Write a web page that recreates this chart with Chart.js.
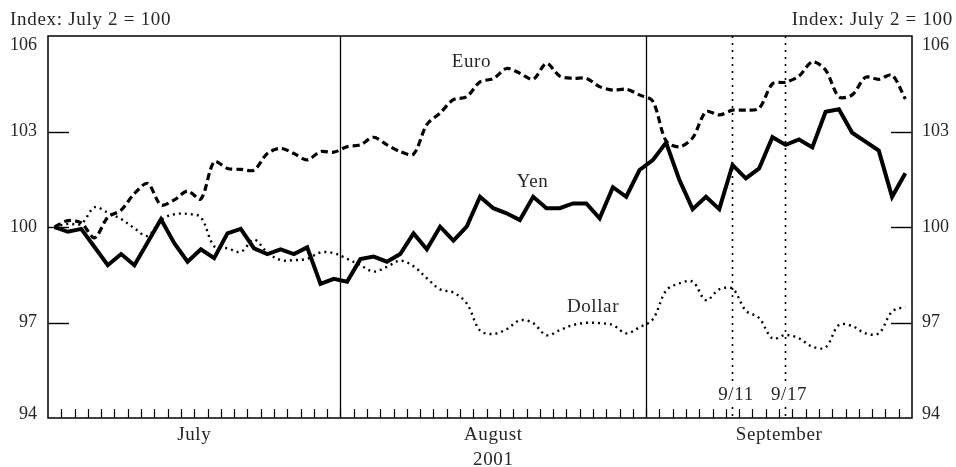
<!DOCTYPE html>
<html><head><meta charset="utf-8">
<script src="https://cdn.jsdelivr.net/npm/chart.js@4/dist/chart.umd.min.js"></script>
<style>html,body{margin:0;padding:0;background:#fff;}#wrap{width:956px;height:467px;}</style>
</head><body><div id="wrap"><canvas id="c" width="956" height="467"></canvas></div>
<script>
// Business days, July 2 – September 28, 2001
const days = [
 '7/2','7/3','7/4','7/5','7/6','7/9','7/10','7/11','7/12','7/13','7/16','7/17','7/18','7/19','7/20','7/23','7/24','7/25','7/26','7/27','7/30','7/31',
 '8/1','8/2','8/3','8/6','8/7','8/8','8/9','8/10','8/13','8/14','8/15','8/16','8/17','8/20','8/21','8/22','8/23','8/24','8/27','8/28','8/29','8/30','8/31',
 '9/3','9/4','9/5','9/6','9/7','9/10','9/11','9/12','9/13','9/14','9/17','9/18','9/19','9/20','9/21','9/24','9/25','9/26','9/27','9/28'
];
const yen = [
 100.0, 99.85, 99.94, 99.37, 98.8, 99.15, 98.8, 99.52, 100.24, 99.49, 98.91, 99.3, 99.02, 99.8, 99.94, 99.33, 99.15, 99.3, 99.15, 99.36, 98.21, 98.37,
 98.28, 98.99, 99.07, 98.91, 99.15, 99.8, 99.3, 100.01, 99.57, 100.01, 100.95, 100.59, 100.43, 100.22, 100.95, 100.59, 100.59, 100.74, 100.74, 100.27, 101.25, 100.95, 101.79,
 102.1, 102.65, 101.48, 100.56, 100.95, 100.56, 101.95, 101.53, 101.84, 102.82, 102.58, 102.75, 102.5, 103.62, 103.7, 102.96, 102.68, 102.4, 100.95, 101.69
];
const euro = [
 100.0, 100.2, 100.13, 99.66, 100.31, 100.53, 101.05, 101.37, 100.69, 100.85, 101.13, 100.88, 102.05, 101.84, 101.81, 101.79, 102.31, 102.47, 102.31, 102.11, 102.37, 102.35,
 102.52, 102.58, 102.82, 102.58, 102.37, 102.29, 103.22, 103.58, 104.0, 104.09, 104.56, 104.66, 104.98, 104.83, 104.64, 105.14, 104.74, 104.67, 104.67, 104.41, 104.3, 104.33, 104.15,
 103.95, 102.7, 102.52, 102.8, 103.62, 103.52, 103.67, 103.67, 103.73, 104.5, 104.55, 104.74, 105.19, 104.93, 104.09, 104.15, 104.7, 104.64, 104.77, 104.02
];
const dollar = [
 100.0, 100.1, 100.1, 100.62, 100.45, 100.25, 99.96, 99.72, 100.22, 100.4, 100.41, 100.3, 99.4, 99.33, 99.22, 99.6, 99.2, 98.96, 98.96, 99.0, 99.2, 99.18,
 99.0, 98.8, 98.6, 98.75, 98.94, 98.77, 98.39, 98.04, 97.94, 97.6, 96.75, 96.64, 96.79, 97.07, 96.98, 96.6, 96.76, 96.92, 96.99, 96.98, 96.92, 96.66, 96.85,
 97.1, 98.0, 98.23, 98.28, 97.7, 98.04, 98.06, 97.37, 97.14, 96.5, 96.61, 96.5, 96.24, 96.22, 96.92, 96.89, 96.66, 96.66, 97.34, 97.5
];
const yTicks = [94, 97, 100, 103, 106];
const monthNames = ['July', 'August', 'September'];
const monthKeys = ['7', '8', '9'];
const yearLabel = '2001';
const axisTitle = 'Index: July 2 = 100';
const events = ['9/11', '9/17'];
// series name annotations: [text, category position, value at text baseline]
const seriesNotes = [['Euro', 31.35, 105.04], ['Yen', 35.95, 101.27], ['Dollar', 40.5, 97.34]];

const FONT = '"Liberation Serif", "DejaVu Serif", serif';
const TXT = '#262626';

const deco = {
  id: 'deco',
  beforeDatasetsDraw(chart) {
    const {ctx, chartArea: a, scales: {x, y}} = chart;
    const step = x.getPixelForValue(1) - x.getPixelForValue(0);
    ctx.save();
    ctx.strokeStyle = '#000';
    // month separators
    ctx.lineWidth = 1.3;
    for (let i = 1; i < days.length; i++) {
      if (days[i].split('/')[0] !== days[i - 1].split('/')[0]) {
        const px = Math.round(x.getPixelForValue(i) - step / 2) + 0.5;
        ctx.beginPath(); ctx.moveTo(px, a.top); ctx.lineTo(px, a.bottom); ctx.stroke();
      }
    }
    // event lines (dotted)
    ctx.lineWidth = 1.6;
    ctx.setLineDash([2, 5]);
    events.forEach(ev => {
      const px = Math.round(x.getPixelForValue(days.indexOf(ev))) - 0.5;
      ctx.beginPath(); ctx.moveTo(px, a.top); ctx.lineTo(px, a.bottom); ctx.stroke();
    });
    ctx.setLineDash([]);
    // x day ticks (inward from bottom)
    ctx.lineWidth = 1.2;
    for (let i = 1; i < days.length; i++) {
      const px = Math.round(x.getPixelForValue(i) - step / 2) + 0.5;
      ctx.beginPath(); ctx.moveTo(px, a.bottom); ctx.lineTo(px, a.bottom - 9); ctx.stroke();
    }
    // y ticks both sides
    ctx.lineWidth = 1.4;
    yTicks.forEach(v => {
      if (v === y.min || v === y.max) return;
      const py = Math.round(y.getPixelForValue(v)) + 0.5;
      ctx.beginPath(); ctx.moveTo(a.left, py); ctx.lineTo(a.left + 21, py); ctx.stroke();
      ctx.beginPath(); ctx.moveTo(a.right, py); ctx.lineTo(a.right - 21, py); ctx.stroke();
    });
    // frame
    ctx.lineWidth = 1.5;
    ctx.strokeRect(a.left, a.top, a.right - a.left, a.bottom - a.top);
    ctx.restore();
  },
  afterDraw(chart) {
    const {ctx, chartArea: a, scales: {x, y}} = chart;
    ctx.save();
    ctx.fillStyle = TXT;
    ctx.font = '18px ' + FONT;
    // y labels
    ctx.textBaseline = 'middle';
    yTicks.forEach(v => {
      let py = y.getPixelForValue(v);
      if (v === y.max) py += 9;
      if (v === y.min) py -= 4;
      ctx.textAlign = 'right'; ctx.fillText(String(v), a.left - 11, py);
      ctx.textAlign = 'left'; ctx.fillText(String(v), a.right + 10, py);
    });
    // titles
    ctx.textBaseline = 'alphabetic';
    ctx.font = '19px ' + FONT;
    if ('letterSpacing' in ctx) ctx.letterSpacing = '0.7px';
    ctx.textAlign = 'left'; ctx.fillText(axisTitle, 10, 25);
    ctx.textAlign = 'right'; ctx.fillText(axisTitle, 953, 25);
    if ('letterSpacing' in ctx) ctx.letterSpacing = '0.6px';
    // month labels
    ctx.textAlign = 'center';
    monthKeys.forEach((k, m) => {
      const idx = days.map((d, i) => d.split('/')[0] === k ? i : -1).filter(i => i >= 0);
      const cx = (x.getPixelForValue(idx[0]) + x.getPixelForValue(idx[idx.length - 1])) / 2;
      ctx.fillText(monthNames[m], cx, 440);
      if (m === 1) ctx.fillText(yearLabel, cx, 465);
    });
    // series names
    seriesNotes.forEach(([t, pos, v]) => {
      const px = x.getPixelForValue(Math.floor(pos)) + (pos - Math.floor(pos)) * (x.getPixelForValue(1) - x.getPixelForValue(0));
      ctx.fillText(t, px, y.getPixelForValue(v));
    });
    // event labels
    events.forEach(ev => {
      const px = Math.round(x.getPixelForValue(days.indexOf(ev))) + 3;
      const py = y.getPixelForValue(94.56);
      const w = ctx.measureText(ev).width;
      ctx.fillStyle = '#fff';
      ctx.fillRect(px - w / 2 - 1, py - 15, w + 2, 19);
      ctx.fillStyle = TXT;
      ctx.fillText(ev, px, py);
    });
    ctx.restore();
  }
};

new Chart(document.getElementById('c'), {
  type: 'line',
  data: {
    labels: days,
    datasets: [
      {label: 'Yen', data: yen, borderColor: '#000', borderWidth: 4, pointRadius: 0, tension: 0, borderJoinStyle: 'miter', fill: false},
      {label: 'Euro', data: euro, borderColor: '#000', borderWidth: 3.2, borderDash: [7, 4], pointRadius: 0, tension: 0.3, fill: false},
      {label: 'Dollar', data: dollar, borderColor: '#000', borderWidth: 2.4, borderDash: [2, 4], pointRadius: 0, tension: 0.35, fill: false}
    ]
  },
  options: {
    responsive: false,
    devicePixelRatio: 1,
    animation: false,
    layout: {padding: {left: 48, right: 44, top: 36, bottom: 49}},
    plugins: {legend: {display: false}, tooltip: {enabled: false}},
    scales: {
      x: {type: 'category', offset: true, display: false},
      y: {min: 94, max: 106, display: false}
    }
  },
  plugins: [deco]
});
</script></body></html>
